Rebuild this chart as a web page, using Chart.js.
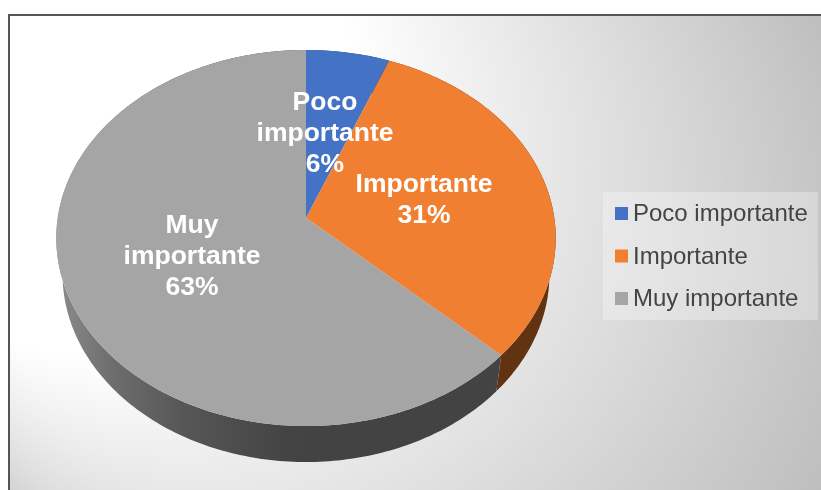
<!DOCTYPE html>
<html lang="es">
<head>
<meta charset="utf-8">
<title>Importancia</title>
<script src="https://cdn.jsdelivr.net/npm/chart.js@4"></script>
<style>
  body { margin: 0; background: #fff; }
  canvas { display: block; }
</style>
</head>
<body>
<canvas id="chart" width="821" height="490"></canvas>
<script>
const categories = ['Poco importante', 'Importante', 'Muy importante'];
const values = [6, 31, 63];
const sliceColors = ['#4472C4', '#F07F31', '#A5A5A5'];
const wallColors = ['#2A4578', '#623310', null];

const FONT = '"Liberation Sans", Arial, sans-serif';

// tilt of the disc: how a point of the unit circle lands on the page
const STRETCH_X = 1.478;
const SQUASH_Y = 1.1065;
const PERSPECTIVE = 0.1064;
const WALL_DEPTH = 36;
const WALL_SHRINK = 0.975;

// label lines, centred at these page positions
const sliceLabels = [
  { x: 325, y: 103, lines: ['Poco', 'importante'] },
  { x: 424, y: 185, lines: ['Importante'] },
  { x: 192, y: 226, lines: ['Muy', 'importante'] },
];

function project(arc, angle) {
  const u = Math.cos(angle);
  const v = -Math.sin(angle);
  const d = 1 + PERSPECTIVE * v;
  return {
    x: arc.x + arc.outerRadius * STRETCH_X * u / d,
    y: arc.y - arc.outerRadius * SQUASH_Y * v / d,
  };
}

function rimPoints(arc) {
  const steps = Math.max(8, Math.ceil((arc.endAngle - arc.startAngle) * 60));
  const pts = [];
  for (let i = 0; i <= steps; i++) {
    pts.push(project(arc, arc.startAngle + (arc.endAngle - arc.startAngle) * i / steps));
  }
  return pts;
}

const backdrop = {
  id: 'backdrop',
  beforeDraw(chart) {
    const ctx = chart.ctx;
    ctx.save();
    ctx.fillStyle = '#ffffff';
    ctx.fillRect(0, 0, 821, 490);

    // off-centre shading, painted as shrinking circles from grey to white
    ctx.beginPath();
    ctx.rect(8, 15, 813, 475);
    ctx.clip();
    ctx.fillStyle = '#bebebe';
    ctx.fillRect(8, 15, 813, 475);
    const steps = 130;
    for (let i = steps; i >= 0; i--) {
      const t = i / steps;
      const level = Math.round(255 - 65 * t);
      ctx.fillStyle = `rgb(${level},${level},${level})`;
      ctx.beginPath();
      ctx.arc(100 + 299 * t, 100 + 152 * t, 255 + 229 * t, 0, Math.PI * 2);
      ctx.fill();
    }
    ctx.restore();

    ctx.save();
    ctx.fillStyle = '#555555';
    ctx.fillRect(8, 14, 813, 2);
    ctx.fillRect(8, 14, 2, 476);
    ctx.restore();
  },
};

// the slices are tilted, so the wall and the top face are drawn here
const tiltedPie = {
  id: 'tiltedPie',
  beforeDatasetDraw(chart, args) {
    const ctx = chart.ctx;
    const arcs = chart.getDatasetMeta(args.index).data;

    const greyWall = ctx.createLinearGradient(60, 0, 310, 0);
    greyWall.addColorStop(0, '#8a8a8a');
    greyWall.addColorStop(0.2, '#6e6e6e');
    greyWall.addColorStop(0.5, '#565656');
    greyWall.addColorStop(0.9, '#444444');
    greyWall.addColorStop(1, '#434343');

    ctx.save();
    arcs.forEach((arc, i) => {
      const pts = rimPoints(arc);
      ctx.beginPath();
      pts.forEach((p, k) => (k ? ctx.lineTo(p.x, p.y) : ctx.moveTo(p.x, p.y)));
      pts.slice().reverse().forEach((p) => {
        ctx.lineTo(arc.x + (p.x - arc.x) * WALL_SHRINK, p.y + WALL_DEPTH);
      });
      ctx.closePath();
      ctx.fillStyle = wallColors[i] || greyWall;
      ctx.fill();
    });

    arcs.forEach((arc, i) => {
      ctx.beginPath();
      ctx.moveTo(arc.x, arc.y);
      rimPoints(arc).forEach((p) => ctx.lineTo(p.x, p.y));
      ctx.closePath();
      ctx.fillStyle = sliceColors[i];
      ctx.fill();
    });
    ctx.restore();
    return false;
  },
  afterDatasetsDraw(chart) {
    const ctx = chart.ctx;
    ctx.save();
    ctx.fillStyle = '#ffffff';
    ctx.font = 'bold 26.5px ' + FONT;
    ctx.textAlign = 'center';
    ctx.textBaseline = 'middle';
    sliceLabels.forEach((lab, i) => {
      lab.lines.concat(values[i] + '%').forEach((line, k) => {
        ctx.fillText(line, lab.x, lab.y + k * 30.7);
      });
    });
    ctx.restore();
  },
};

// legend panel on the right, filled from the library's legend items
const sideLegend = {
  id: 'sideLegend',
  afterDraw(chart) {
    const ctx = chart.ctx;
    ctx.save();
    ctx.fillStyle = 'rgba(255,255,255,0.3)';
    ctx.fillRect(603, 192, 215, 128);
    ctx.font = '24px ' + FONT;
    ctx.textBaseline = 'middle';
    chart.legend.legendItems.forEach((item, i) => {
      const y = 213.5 + i * 42.5;
      ctx.fillStyle = item.fillStyle;
      ctx.fillRect(615, y - 6.5, 13, 13);
      ctx.fillStyle = '#444444';
      ctx.fillText(item.text, 633, y + 1);
    });
    ctx.restore();
  },
};

new Chart(document.getElementById('chart'), {
  type: 'pie',
  data: {
    labels: categories,
    datasets: [{ data: values, backgroundColor: sliceColors, borderWidth: 0 }],
  },
  options: {
    responsive: false,
    animation: false,
    layout: { padding: { left: 138, right: 347, top: 50, bottom: 104 } },
    plugins: {
      legend: { display: false },
      tooltip: { enabled: false },
    },
  },
  plugins: [backdrop, tiltedPie, sideLegend],
});
</script>
</body>
</html>
